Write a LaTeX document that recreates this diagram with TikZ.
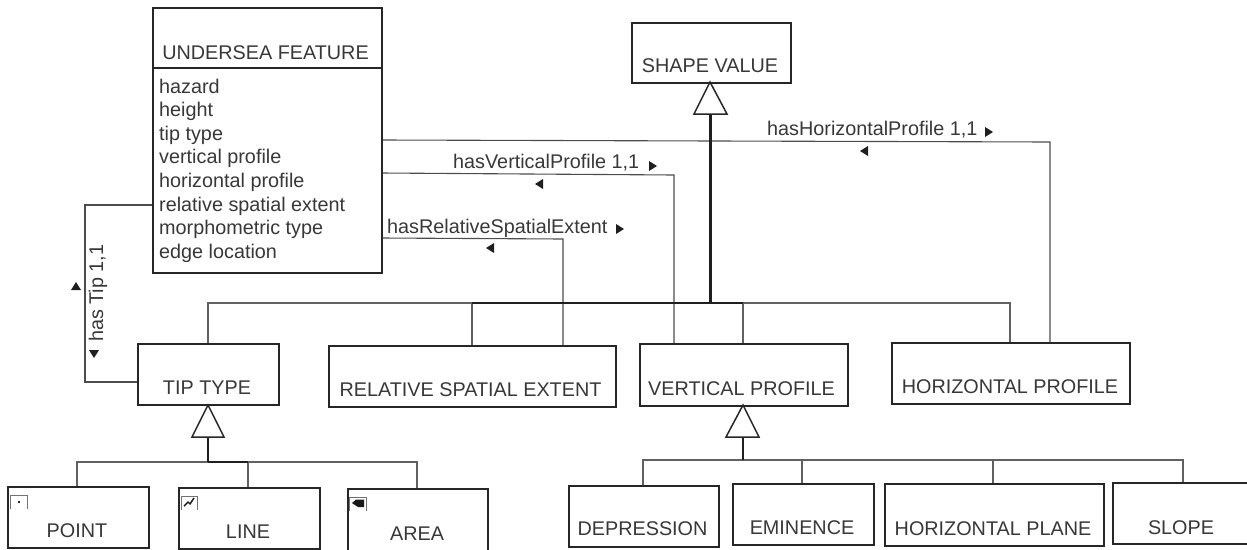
\documentclass[tikz,border=0pt]{standalone}
\usepackage{fontspec}
\setmainfont{Liberation Sans}
\tikzset{
  cls/.style={draw=black!85,line width=1.7pt,fill=white,inner sep=0pt},
  assoc/.style={draw=black!70,line width=1.1pt},
  thin bus/.style={draw=black!62,line width=1.2pt},
  thick bus/.style={draw=black!88,line width=2.4pt},
  tri/.style={draw=black!85,line width=1.5pt,fill=white,line join=miter},
  lab/.style={inner sep=0pt,text=black!78,font=\fontsize{19.8}{23.5}\selectfont},
  dirmark/.style={fill=black!88,draw=none},
  icon/.style={draw=black!55,line width=.8pt},
}
% name, x1, y1, x2, y2, text centre x, baseline y, text
\newcommand{\boxat}[8]{%
  \node[cls,minimum width=#4pt-#2pt,minimum height=#5pt-#3pt,anchor=north west] (#1) at (#2,#3) {};
  \node[lab,anchor=base] (#1t) at (#6,#7) {#8};
}
\begin{document}
\begin{tikzpicture}[x=1pt,y=-1pt]
\useasboundingbox (0,0) rectangle (1247,549);
% connector end points
\coordinate (a1) at (381,140); \coordinate (a1c) at (1050,142); \coordinate (a1e) at (1050,342);
\coordinate (a2) at (381,173); \coordinate (a2c) at (674,175); \coordinate (a2e) at (674,343);
\coordinate (a3) at (381,238); \coordinate (a3c) at (563,239); \coordinate (a3e) at (563,345);
\coordinate (a4) at (152,205); \coordinate (a4c) at (85,205); \coordinate (a4d) at (85,382); \coordinate (a4e) at (137,382);
\coordinate (t1) at (710,82); \coordinate (t1l) at (694,114); \coordinate (t1r) at (727,114); \coordinate (t1m) at (710.5,114); \coordinate (t1b) at (710.5,303);
\coordinate (t2) at (208,405); \coordinate (t2l) at (192,437); \coordinate (t2r) at (224,437); \coordinate (t2m) at (208,437); \coordinate (t2b) at (208,462);
\coordinate (t3) at (743,405); \coordinate (t3l) at (726,437); \coordinate (t3r) at (759,437); \coordinate (t3m) at (743,437); \coordinate (t3b) at (743,460);
% connectors
\draw[assoc] (a1) -- (a1c) -- (a1e);
\draw[assoc] (a2) -- (a2c) -- (a2e);
\draw[assoc] (a3) -- (a3c) -- (a3e);
\draw[assoc] (a4) -- (a4c) -- (a4d) -- (a4e);
\draw[thin bus] (208,343) -- (208,303) -- (1010,303) -- (1010,342);
\draw[thin bus] (472,303) -- (472,345);
\draw[thin bus] (743,303) -- (743,343);
\draw[thick bus,line width=1.8pt] (472,303) -- (743,303);
\draw[thin bus] (77,486) -- (77,462) -- (417,462) -- (417,488);
\draw[thin bus] (248,462) -- (248,487);
\draw[thick bus,line width=1.8pt] (208,462) -- (248,462);
\draw[thin bus] (643,485) -- (643,460) -- (1183,460) -- (1183,482);
\draw[thin bus] (802,460) -- (802,483);
\draw[thin bus] (993,460) -- (993,483);
\draw[thick bus] (t1b) -- (t1m);
\draw[thick bus] (t2b) -- (t2m);
\draw[thick bus] (t3b) -- (t3m);
% boxes
\node[cls,minimum width=229pt,minimum height=265pt,anchor=north west] (uf) at (152,7) {};
\draw[cls] (152,68) -- (381,68);
\node[lab,anchor=base] (uft) at (265.5,59) {UNDERSEA FEATURE};
\node[lab,anchor=base west,align=left] (ufa) at (159,93) {hazard};
\node[lab,anchor=base west] (ufb) at (159,116.5) {height};
\node[lab,anchor=base west] (ufc) at (159,140) {tip type};
\node[lab,anchor=base west] (ufd) at (159,163.5) {vertical profile};
\node[lab,anchor=base west] (ufe) at (159,187) {horizontal profile};
\node[lab,anchor=base west] (uff) at (159,211) {relative spatial extent};
\node[lab,anchor=base west] (ufg) at (159,234.5) {morphometric type};
\node[lab,anchor=base west] (ufh) at (159,258) {edge location};
\boxat{sv}{631}{22}{790}{82}{710}{72}{SHAPE VALUE}
\boxat{tip}{137}{343}{278}{404}{207}{394}{TIP TYPE}
\boxat{rel}{328}{345}{615}{406}{470.5}{396}{RELATIVE SPATIAL EXTENT}
\boxat{ver}{639}{343}{847}{405}{741.5}{395}{VERTICAL PROFILE}
\boxat{hor}{891}{342}{1129}{403}{1010}{393}{HORIZONTAL PROFILE}
\boxat{pt}{7}{486}{148}{547}{77}{537}{POINT}
\boxat{ln}{178}{487}{319}{548}{248}{538}{LINE}
\boxat{ar}{347}{488}{487}{550}{417}{540}{AREA}
\boxat{dep}{568}{485}{718}{546}{642.5}{535}{DEPRESSION}
\boxat{emi}{732}{483}{873}{544}{802}{534}{EMINENCE}
\boxat{hp}{884}{483}{1103}{545}{993}{535}{HORIZONTAL PLANE}
\boxat{slo}{1112}{482}{1250}{543}{1181}{534}{SLOPE}
% inheritance triangles
\draw[tri] (t1) -- (t1l) -- (t1r) -- cycle;
\draw[tri] (t2) -- (t2l) -- (t2r) -- cycle;
\draw[tri] (t3) -- (t3l) -- (t3r) -- cycle;
% small icons
\draw[icon] (10,509) -- (10,495) -- (27,495) -- (27,509);
\fill[black!85] (17.5,500.5) rectangle (20,503);
\draw[icon] (181,510) -- (181,496) -- (197,496) -- (197,510);
\draw[black!90,line width=1.4pt] (184,506) -- (188,502) -- (190,504) -- (194,498);
\draw[icon] (349,511) -- (349,497) -- (366,497) -- (366,511);
\fill[black!90] (352,503) -- (356,499.5) -- (364,499.5) -- (364,507) -- (358,507) -- cycle;
% labels
\node[lab,anchor=base west] (l1) at (767,135) {hasHorizontalProfile 1,1};
\node[lab,anchor=base west] (l2) at (453,168) {hasVerticalProfile 1,1};
\node[lab,anchor=base west] (l3) at (387,233) {hasRelativeSpatialExtent};
\node[lab,anchor=base west,rotate=90] (l4) at (103,342) {has Tip 1,1};
% direction marks
\fill[dirmark] (993,132) -- (985,127) -- (985,137) -- cycle;
\fill[dirmark] (657,166) -- (649,161) -- (649,171) -- cycle;
\fill[dirmark] (624,229) -- (616,224) -- (616,234) -- cycle;
\fill[dirmark] (860,151) -- (868,146) -- (868,156) -- cycle;
\fill[dirmark] (535,184) -- (543,179) -- (543,189) -- cycle;
\fill[dirmark] (486,248) -- (494,243) -- (494,253) -- cycle;
\fill[dirmark] (76,282) -- (71,290) -- (81,290) -- cycle;
\fill[dirmark] (94,358) -- (89,350) -- (99,350) -- cycle;
\end{tikzpicture}
\end{document}
